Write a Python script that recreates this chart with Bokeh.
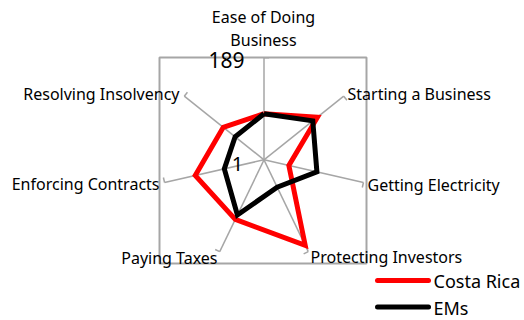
import numpy as np
from bokeh.plotting import figure
from bokeh.models import Range1d
from bokeh.core.properties import value
from bokeh.embed import file_html
from bokeh.resources import INLINE

# ---- data ----
categories = ["Ease of Doing Business", "Starting a Business", "Getting Electricity",
              "Protecting Investors", "Paying Taxes", "Enforcing Contracts",
              "Resolving Insolvency"]
costa_rica = [86, 127, 48, 176, 123, 131, 97]
ems = [86, 116, 101, 57, 114, 76, 69]
rank_min, rank_max = 1, 189
series_names = ["Costa Rica", "EMs"]

# ---- geometry (radius 1 == outer ring) ----
R_PX = 102.0
CX, CY = 263.5, 159.3
def px(x):
    return (x - CX) / R_PX
def py(y):
    return (CY - y) / R_PX

n = len(categories)
theta = np.arange(n) * 2 * np.pi / n

def polar(vals):
    r = (np.asarray(vals, dtype=float) - rank_min) / (rank_max - rank_min)
    xs = list(r * np.sin(theta)) + [r[0] * np.sin(theta[0])]
    ys = list(r * np.cos(theta)) + [r[0] * np.cos(theta[0])]
    return xs, ys

p = figure(width=524, height=320, output_backend="svg", toolbar_location=None,
           x_range=Range1d(px(0), px(524)), y_range=Range1d(py(320), py(0)),
           min_border=0, outline_line_color=None, background_fill_color="white")
p.axis.visible = False
p.grid.visible = False

gray = "#A6A6A6"
# plot-area frame
p.quad(left=px(159), right=px(366), top=py(57), bottom=py(263),
       fill_color=None, line_color=gray, line_width=2)

# spokes and end ticks
ex, ey = np.sin(theta), np.cos(theta)
p.segment(x0=np.zeros(n), y0=np.zeros(n), x1=ex, y1=ey, line_color=gray, line_width=1.5)
tl = 0.05
p.segment(x0=ex, y0=ey, x1=ex + tl * np.cos(theta), y1=ey - tl * np.sin(theta),
          line_color=gray, line_width=1.5)

# series
colors = ["#FF0000", "#000000"]
for vals, c in zip([costa_rica, ems], colors):
    xs, ys = polar(vals)
    p.line(xs, ys, line_color=c, line_width=5, line_join="miter")

font = value("Noto Sans")
fs = "16px"
# category labels
lab = [
    (categories[1], 347, 93, "left"),
    (categories[2], 367, 184, "left"),
    (categories[3], 310, 256, "left"),
    (categories[4], 217, 257, "right"),
    (categories[5], 159, 183, "right"),
    (categories[6], 179, 93, "right"),
]
for t, x, y, a in lab:
    p.text(x=[px(x)], y=[py(y)], text=[t], text_font=font, text_font_size=fs,
           text_align=a, text_baseline="middle", text_color="#000000")
words = categories[0].split(" ")
p.text(x=[px(263), px(263)], y=[py(16), py(39)],
       text=[" ".join(words[:3]), words[3]], text_font=font, text_font_size=fs,
       text_align="center", text_baseline="middle", text_color="#000000")

# scale labels
p.text(x=[px(226)], y=[py(59)], text=[str(rank_max)], text_font=font,
       text_font_size="21px", text_align="center", text_baseline="middle")
p.text(x=[px(237)], y=[py(163)], text=[str(rank_min)], text_font=font,
       text_font_size="20px", text_align="center", text_baseline="middle")

# legend
for i, (nm, c) in enumerate(zip(series_names, colors)):
    yy = 280 + 26.5 * i
    p.line([px(377), px(428)], [py(yy), py(yy)], line_color=c, line_width=5, line_cap="round")
    p.text(x=[px(433)], y=[py(yy + 0.5)], text=[nm], text_font=font, text_font_size="18px",
           text_align="left", text_baseline="middle")

open("out.html", "w").write(file_html(p, INLINE))
